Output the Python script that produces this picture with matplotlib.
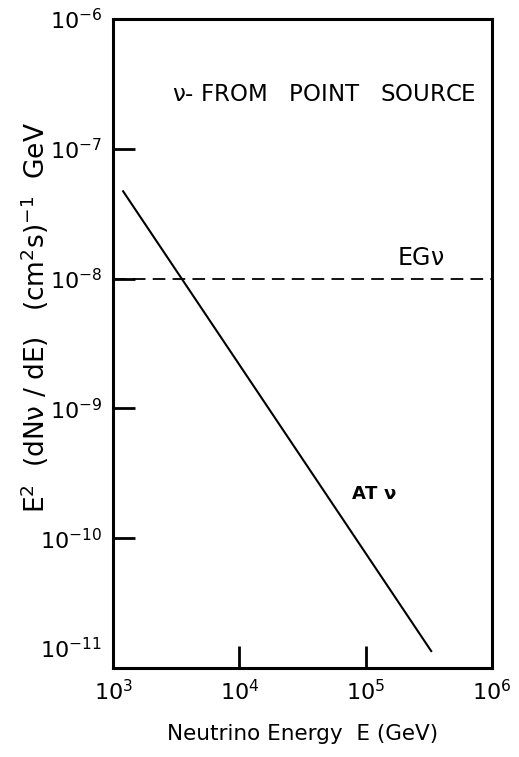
import matplotlib
matplotlib.use('Agg')
import matplotlib.pyplot as plt
import matplotlib.transforms as mtransforms

plt.rcParams['font.family'] = ['DejaVu Sans']
plt.rcParams['mathtext.default'] = 'regular'

# atmospheric neutrino line (AT nu)
at_energy = [1.2e3, 3.3e5]
at_flux = [4.7e-8, 1.35e-11]

# extragalactic neutrino level (EG nu), dashed
eg_energy = [1e3, 1e6]
eg_flux = [1e-8, 1e-8]

x_ticks = [1e3, 1e4, 1e5, 1e6]
y_ticks = [1e-11, 1e-10, 1e-9, 1e-8, 1e-7, 1e-6]

fig = plt.figure(figsize=(5.19, 7.57), dpi=100)
ax = fig.add_axes([0.218, 0.1176, 0.730, 0.8574])

ax.plot(at_energy, at_flux, color='black', lw=1.5)
ax.plot(eg_energy, eg_flux, color='black', lw=1.3, ls=(0, (7, 4)))

ax.set_xscale('log')
ax.set_yscale('log')
ax.set_xlim(1e3, 1e6)
ax.set_ylim(1e-11, 1e-6)
ax.set_xticks(x_ticks)
ax.set_yticks(y_ticks)
ax.minorticks_off()

ax.tick_params(direction='in', length=16, width=2, labelsize=16, pad=8)
for sp in ax.spines.values():
    sp.set_linewidth(2.2)

# lowest y label sits a bit above its tick in the original
labs = ax.yaxis.get_majorticklabels()
off = mtransforms.ScaledTranslation(0, 20 / 100, fig.dpi_scale_trans)
labs[0].set_transform(labs[0].get_transform() + off)

ax.text(2.9e3, 2.6e-7, r'$\nu$- FROM   POINT   SOURCE', fontsize=16.5,
        ha='left', va='center')
ax.text(1.78e5, 1.45e-8, r'EG$\nu$', fontsize=17, ha='left', va='center')
ax.text(7.6e4, 2.2e-10, r'AT $\nu$', fontsize=13, ha='left', va='center',
        fontweight='bold')

ax.set_xlabel('Neutrino Energy  E (GeV)', fontsize=15.5, labelpad=14)
ax.set_ylabel(r'E$^2$  (dN$\nu$ / dE)   (cm$^2$s)$^{-1}$  GeV', fontsize=19)
ax.yaxis.set_label_coords(-0.165, 0.54)

fig.savefig('out.png', dpi=100)
